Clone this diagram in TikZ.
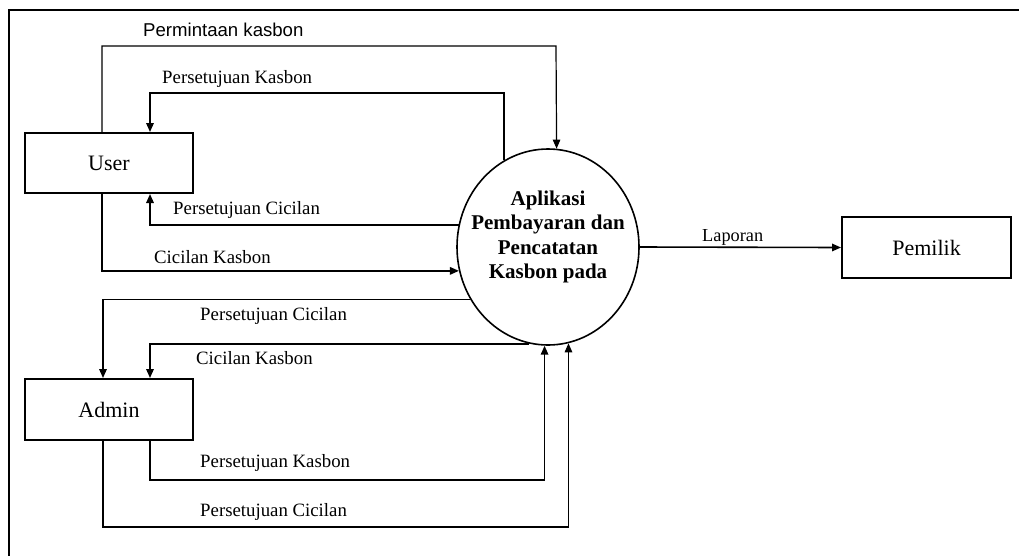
\documentclass[tikz,border=0pt]{standalone}
\usepackage{fontspec}
\setmainfont{Liberation Serif}
\newfontfamily\arialf{Liberation Sans}
\usetikzlibrary{arrows.meta,shapes.geometric}
\begin{document}
\begin{tikzpicture}[x=1pt,y=-1pt,
  entity/.style={draw, line width=2pt, minimum width=168pt, minimum height=60pt, inner sep=0pt, font=\fontsize{22}{26}\selectfont},
  flow/.style={line width=1.6pt, -{Triangle[length=9pt,width=7.5pt]}},
  lbl/.style={font=\fontsize{18.8}{22}\selectfont, inner sep=0pt, anchor=west},
  proc/.style={draw, ellipse, line width=1.6pt, minimum width=182pt, minimum height=196pt, inner sep=0pt},
  frame/.style={line width=2.8pt}
]
\useasboundingbox (0,0) rectangle (1019,555);
\fill[white] (0,0) rectangle (1019,555);
% frame
\coordinate (fbl) at (9,556);
\coordinate (ftl) at (9,10);
\coordinate (ftr) at (1020,10);
\draw[frame] (fbl) -- (ftl) -- (ftr);

% nodes
\node[entity] (user) at (109,163) {User};
\node[entity, minimum height=61pt] (admin) at (109,409.5) {Admin};
\node[entity, minimum width=169pt, minimum height=61pt] (pemilik) at (926.5,247.5) {Pemilik};
\node[proc] (app) at (548,247) {};
\node[font=\fontsize{21}{24.5}\selectfont\bfseries, align=center, inner sep=0pt] (apptext) at (548,237) {Aplikasi\\Pembayaran dan\\Pencatatan\\Kasbon pada};

% user flows
\draw[flow, line width=1.2pt] ([xshift=-7pt]user.north) |- (556,46) -- (app.85.3);
\draw[flow] (app.117.8) |- (150,93) -- ([xshift=41pt]user.north);
\draw[flow] (app.166.7) -| ([xshift=41pt]user.south);
\draw[flow] ([xshift=-7pt]user.south) |- (app.195.9);

% admin flows
\draw[flow] (app.214.7) -| ([xshift=-6pt]admin.north);
\draw[flow] (app.259.4) -| ([xshift=41pt]admin.north);
\draw[flow] ([xshift=41pt]admin.south) -- ++(0,39) -| (app.268.8);
\draw[flow, line width=1.3pt] ([xshift=-6pt]admin.south) -- ++(0,86) -| (app.282.4);

% laporan
\draw[flow] (app.east) -- (pemilik.west);

% labels
\node[lbl, font=\arialf\fontsize{18.6}{22}\selectfont] (l1) at (143,30) {Permintaan kasbon};
\node[lbl] (l2) at (162,79) {Persetujuan Kasbon};
\node[lbl] (l3) at (173,210) {Persetujuan Cicilan};
\node[lbl] (l4) at (154,257) {Cicilan Kasbon};
\node[lbl, font=\fontsize{18.3}{22}\selectfont] (l5) at (702,237) {Laporan};
\node[lbl] (l6) at (200,316) {Persetujuan Cicilan};
\node[lbl] (l7) at (196,358) {Cicilan Kasbon};
\node[lbl] (l8) at (200,463) {Persetujuan Kasbon};
\node[lbl] (l9) at (200,512) {Persetujuan Cicilan};
\end{tikzpicture}
\end{document}
